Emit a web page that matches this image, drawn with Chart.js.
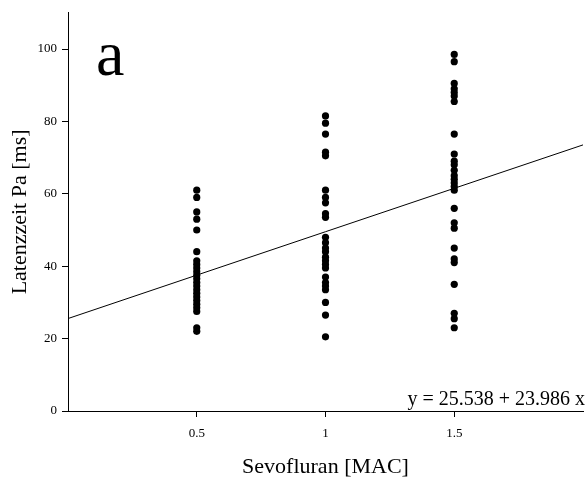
<!DOCTYPE html>
<html lang="de">
<head>
  <meta charset="UTF-8">
  <title>Latenzzeit Pa vs. Sevofluran</title>
  <script src="https://cdn.jsdelivr.net/npm/chart.js"></script>
  <style>
    html, body { margin: 0; padding: 0; background: #fff; }
    #wrap { width: 587px; height: 484px; }
  </style>
</head>
<body>
  <div id="wrap"><canvas id="chart" width="587" height="484"></canvas></div>

  <script>
    const doses = [0.5, 1, 1.5];
    const latenz05 = [61, 59, 55, 53, 50, 44, 41.5, 40.5, 39.5, 38.5, 37.5, 36.5, 35.5, 34.5, 33.5, 32.5, 31.5, 30.5, 29.5, 28.5, 27.5, 23, 22];
    const latenz10 = [81.5, 79.5, 76.5, 71.5, 70.5, 61, 59, 57.5, 54.5, 53.5, 48, 46.5, 45, 44, 42.5, 41.5, 40.5, 39.5, 37, 35.5, 34.5, 33.5, 30, 26.5, 20.5];
    const latenz15 = [98.5, 96.5, 90.5, 89, 88, 87, 85.5, 76.5, 71, 69, 68, 66.5, 65, 64, 63, 62, 61, 56, 52, 50.5, 45, 42, 41, 35, 27, 25.5, 23];
    const intercept = 25.538;
    const slope = 23.986;
    const xTicks = [0.5, 1, 1.5];
    const xTickLabels = ['0.5', '1', '1.5'];
    const yTicks = [0, 20, 40, 60, 80, 100];
    const xRange = [0, 2];
    const yRange = [0, 110];

    const serif = "'Liberation Serif', 'DejaVu Serif', serif";

    const points = [];
    [latenz05, latenz10, latenz15].forEach((arr, i) => {
      arr.forEach(v => points.push({ x: doses[i], y: v }));
    });

    const fitLine = xRange.map(x => ({ x: x, y: intercept + slope * x }));

    const labelsPlugin = {
      id: 'labels',
      afterDraw(chart) {
        const ctx = chart.ctx;
        ctx.save();
        ctx.fillStyle = '#000';
        ctx.font = "64px " + serif;
        ctx.textAlign = 'left';
        ctx.textBaseline = 'alphabetic';
        ctx.fillText('a', 96, 75);
        ctx.font = "20px " + serif;
        ctx.textAlign = 'right';
        ctx.fillText('y = ' + intercept.toFixed(3) + ' + ' + slope.toFixed(3) + ' x', 585, 405);
        ctx.restore();
      }
    };

    new Chart(document.getElementById('chart'), {
      type: 'scatter',
      data: {
        datasets: [
          {
            label: 'Messwerte',
            data: points,
            backgroundColor: '#000',
            borderColor: '#000',
            pointRadius: 3.6,
            pointBorderWidth: 0
          },
          {
            type: 'line',
            label: 'Regression',
            data: fitLine,
            borderColor: '#000',
            borderWidth: 1,
            pointRadius: 0,
            fill: false
          }
        ]
      },
      options: {
        responsive: false,
        animation: false,
        layout: { padding: { top: 11, right: 4, left: 0, bottom: 0 } },
        plugins: {
          legend: { display: false },
          tooltip: { enabled: false }
        },
        scales: {
          x: {
            type: 'linear',
            min: xRange[0],
            max: xRange[1],
            afterBuildTicks: axis => { axis.ticks = xTicks.map(v => ({ value: v })); },
            afterFit: scale => { scale.height = 73; },
            border: { display: true, color: '#000', width: 1 },
            grid: { drawOnChartArea: false, drawTicks: true, tickLength: 6, color: '#000' },
            ticks: {
              color: '#000',
              font: { family: serif, size: 13 },
              padding: 9,
              callback: (v, i) => xTickLabels[i]
            },
            title: {
              display: true,
              text: 'Sevofluran [MAC]',
              color: '#000',
              font: { family: serif, size: 22 },
              padding: { top: 0, bottom: 4 }
            }
          },
          y: {
            min: yRange[0],
            max: yRange[1],
            afterBuildTicks: axis => { axis.ticks = yTicks.map(v => ({ value: v })); },
            afterFit: scale => { scale.width = 68; },
            border: { display: true, color: '#000', width: 1 },
            grid: { drawOnChartArea: false, drawTicks: true, tickLength: 6, color: '#000' },
            ticks: { color: '#000', font: { family: serif, size: 13 }, padding: 5 },
            title: {
              display: true,
              text: 'Latenzzeit Pa [ms]',
              color: '#000',
              font: { family: serif, size: 22 },
              padding: { top: 7, bottom: 0 }
            }
          }
        }
      },
      plugins: [labelsPlugin]
    });
  </script>
</body>
</html>
